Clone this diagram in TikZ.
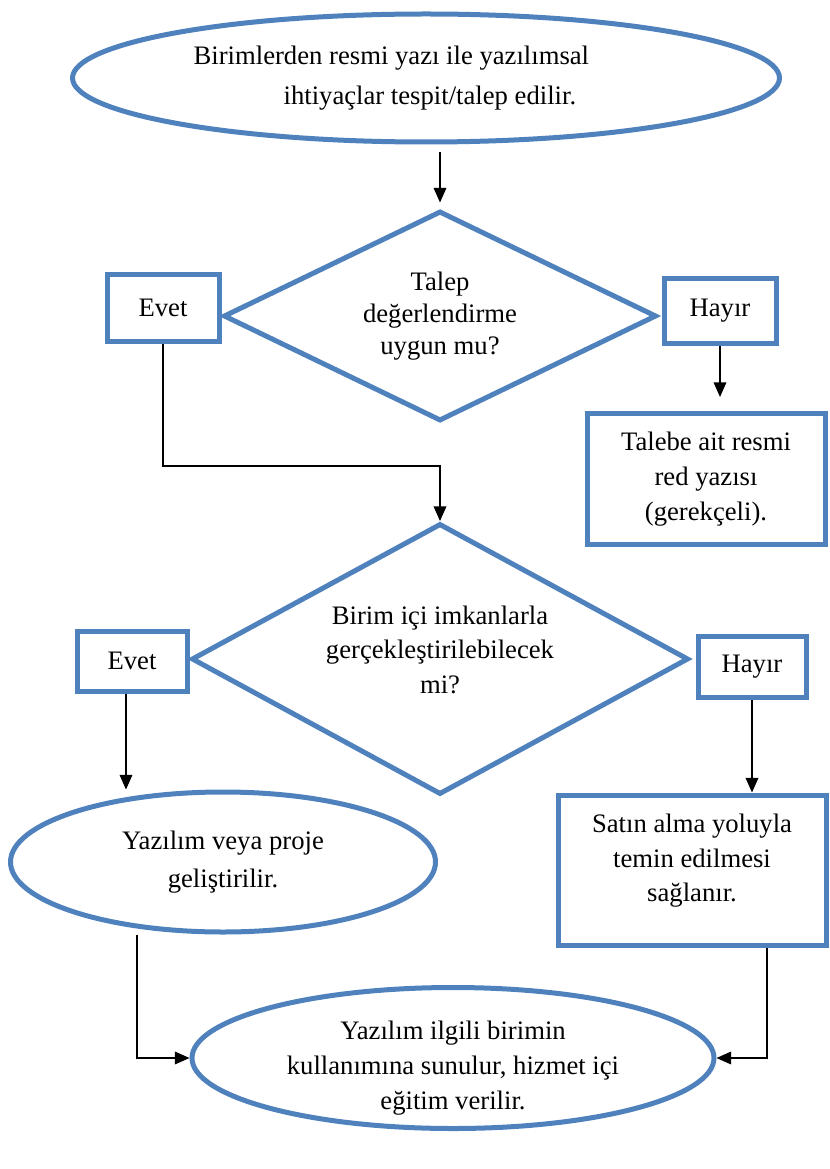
\documentclass[tikz,border=0pt]{standalone}
\usepackage{fontspec}
\setmainfont{Liberation Serif}
\usepackage{tikz}
\usetikzlibrary{arrows.meta,positioning,shapes.geometric}
\definecolor{flowblue}{RGB}{79,129,189}
\newlength{\pxu}
\setlength{\pxu}{0.75pt}

\begin{document}
\begin{tikzpicture}[
  x=\pxu, y=-\pxu,
  base/.style={draw=flowblue, line width=5\pxu, align=center, inner sep=0pt,
               font={\fontsize{20}{26}\selectfont}},
  box/.style={base, rectangle},
  oval/.style={base, ellipse},
  ask/.style={base, diamond, aspect=2},
  arrow/.style={-{Triangle[length=11pt,width=9.5pt]}, line width=1.1pt},
]
\useasboundingbox (0,0) rectangle (830,1169);

% Request
\node[oval, minimum width=707\pxu, minimum height=128\pxu, align=left,
      font={\fontsize{20}{30}\selectfont}] (req) at (426,78)
  {Birimlerden resmi yazı ile yazılımsal\hspace*{52pt}\\
   \hspace*{67.5pt}ihtiyaçlar tespit/talep edilir.};

% First decision
\node[ask, minimum width=433\pxu, minimum height=210\pxu,
      font={\fontsize{20}{24}\selectfont}] (q1) at (440,316)
  {Talep\\değerlendirme\\uygun mu?};
\node[box, minimum width=112\pxu, minimum height=67\pxu] (yes1) at (163,308) {Evet};
\node[box, minimum width=112\pxu, minimum height=65\pxu] (no1) at (720,311) {Hayır};
\node[box, minimum width=238\pxu, minimum height=131\pxu] (reject) at (706,479)
  {Talebe ait resmi\\red yazısı\\(gerekçeli).};

% Second decision
\node[ask, minimum width=497\pxu, minimum height=271\pxu, text depth=14pt] (q2) at (440,659)
  {Birim içi imkanlarla\\gerçekleştirilebilecek\\mi?};
\node[box, minimum width=110\pxu, minimum height=60\pxu] (yes2) at (132,661) {Evet};
\node[box, minimum width=108\pxu, minimum height=61\pxu] (no2) at (752,667) {Hayır};

% Outcomes
\node[oval, minimum width=425\pxu, minimum height=140\pxu,
      font={\fontsize{20}{28}\selectfont}] (dev) at (223,862)
  {Yazılım veya proje\\geliştirilir.};
\node[box, minimum width=268\pxu, minimum height=150\pxu, text depth=18pt] (buy) at (692,870)
  {Satın alma yoluyla\\temin edilmesi\\sağlanır.};
\node[oval, minimum width=522\pxu, minimum height=141\pxu, text height=81pt,
      inner ysep=-8pt] (serve) at (453,1058)
  {Yazılım ilgili birimin\\kullanımına sunulur, hizmet içi\\eğitim verilir.};

% Connectors
\draw[arrow, shorten <=8\pxu, shorten >=6\pxu] (req.south -| q1.north) -- (q1.north);
\draw[arrow] (yes1.south) -- ++(0,122) -| (q2.north);
\draw[arrow, shorten >=14\pxu] (no1.south) -- (no1.south |- reject.north);
\draw[arrow] ([xshift=-6\pxu]yes2.south) -- ([xshift=-6\pxu]yes2.south |- dev.north);
\draw[arrow] (no2.south) -- (no2.south |- buy.north);
\draw[arrow] ([xshift=-86\pxu]dev.south) |- (serve.west);
\draw[arrow] ([xshift=75\pxu]buy.south) |- (serve.east);
\end{tikzpicture}
\end{document}
